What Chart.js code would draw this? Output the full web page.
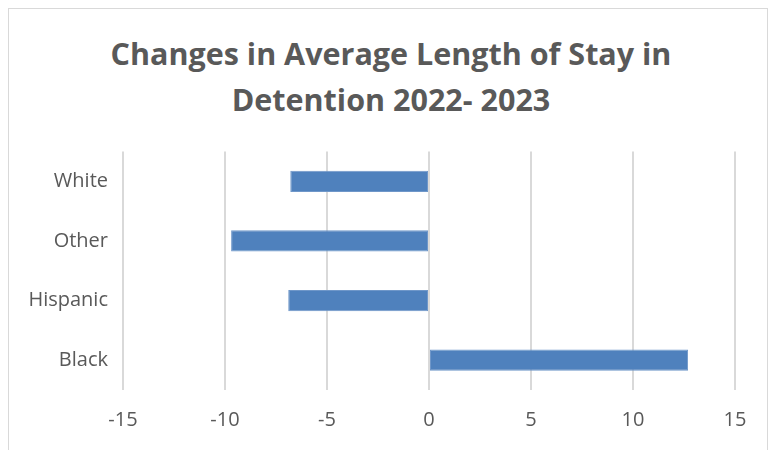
<!DOCTYPE html>
<html>
<head>
<meta charset="utf-8">
<script src="https://cdn.jsdelivr.net/npm/chart.js@4"></script>
<style>
  html, body { margin: 0; padding: 0; background: #fff; }
  #wrap { position: relative; width: 776px; height: 450px; overflow: hidden; }
  #frame { position: absolute; left: 8px; top: 8px; width: 760px; height: 460px; border: 1px solid #d9d9d9; box-sizing: border-box; }
  #title { position: absolute; left: 91px; top: 30px; width: 600px; text-align: center;
           font-family: 'Open Sans', 'Liberation Sans', sans-serif; font-weight: bold;
           font-size: 30.5px; line-height: 46px; color: #595959; white-space: nowrap; }
  canvas { position: absolute; left: 0; top: 0; }
</style>
</head>
<body>
<div id="wrap">
  <div id="frame"></div>
  <div id="title"></div>
  <canvas id="losChart" width="776" height="450"></canvas>
</div>
<script>
// Datos
const categories = ['White', 'Other', 'Hispanic', 'Black'];
const changeValues = [-6.8, -9.7, -6.9, 12.7];
const titleLines = ['Changes in Average Length of Stay in', 'Detention 2022- 2023'];

const textColor = '#595959';
const fontFamily = "'Open Sans', 'Liberation Sans', sans-serif";

// Título como texto HTML, centrado sobre el gráfico
const titleEl = document.getElementById('title');
titleLines.forEach(line => {
    const div = document.createElement('div');
    div.textContent = line;
    titleEl.appendChild(div);
});

const ctx = document.getElementById('losChart').getContext('2d');
new Chart(ctx, {
    type: 'bar',
    data: {
        labels: categories,
        datasets: [{
            label: 'Change',
            data: changeValues,
            backgroundColor: '#4f81bd',
            borderColor: '#6f97c9',
            borderWidth: 1,
            borderSkipped: false,
            categoryPercentage: 1,
            barPercentage: 0.355
        }]
    },
    options: {
        indexAxis: 'y',
        responsive: false,
        animation: false,
        layout: { padding: { left: 0, right: 41, top: 151.5, bottom: 0 } },
        plugins: {
            legend: { display: false },
            tooltip: { enabled: false },
            title: { display: false }
        },
        scales: {
            x: {
                min: -15,
                max: 15,
                ticks: {
                    stepSize: 5,
                    color: textColor,
                    font: { family: fontFamily, size: 20 },
                    padding: 18
                },
                grid: { color: '#d9d9d9', lineWidth: 2, drawTicks: false },
                border: { display: false },
                afterFit: (scale) => { scale.height = 60; }
            },
            y: {
                ticks: {
                    color: textColor,
                    font: { family: fontFamily, size: 20 },
                    padding: 7
                },
                grid: { display: false },
                border: { display: false },
                afterFit: (scale) => { scale.width = 123; }
            }
        }
    }
});
</script>
</body>
</html>
